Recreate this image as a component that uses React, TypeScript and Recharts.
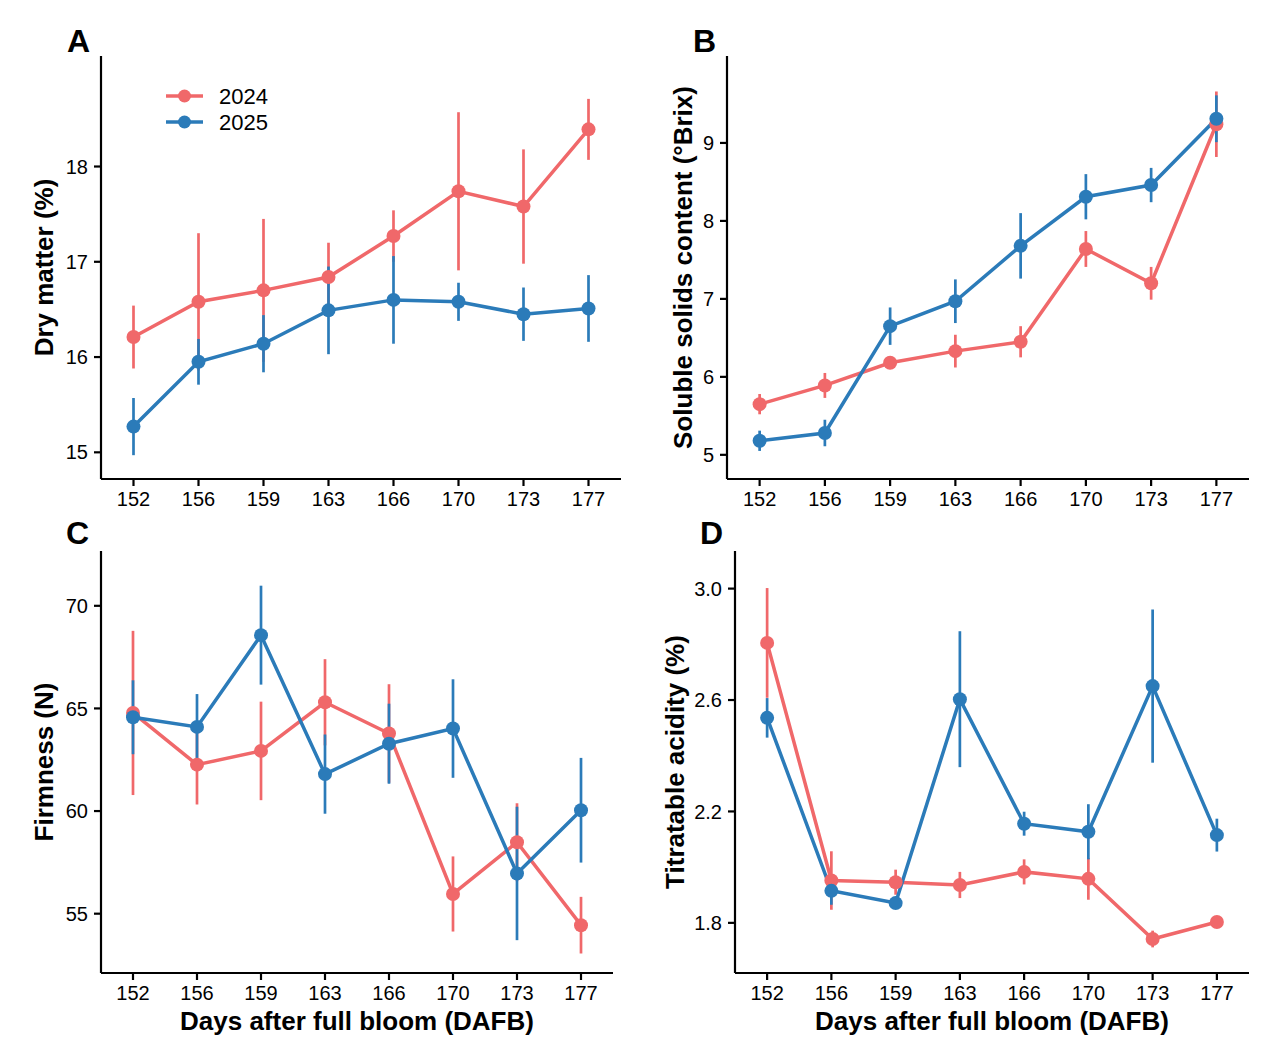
import { LineChart, Line, XAxis, YAxis, ErrorBar, Legend } from "recharts";

const days = ["152", "156", "159", "163", "166", "170", "173", "177"];

const dryMatter2024 = [16.21, 16.58, 16.7, 16.84, 17.27, 17.74, 17.58, 18.39];
const dryMatter2024Err = [0.33, 0.72, 0.75, 0.36, 0.27, 0.83, 0.6, 0.32];
const dryMatter2025 = [15.27, 15.95, 16.14, 16.49, 16.6, 16.58, 16.45, 16.51];
const dryMatter2025Err = [0.3, 0.24, 0.3, 0.46, 0.46, 0.2, 0.28, 0.35];

const ssc2024 = [5.65, 5.89, 6.18, 6.33, 6.45, 7.64, 7.2, 9.24];
const ssc2024Err = [0.13, 0.16, 0.08, 0.21, 0.2, 0.23, 0.21, 0.42];
const ssc2025 = [5.18, 5.28, 6.65, 6.97, 7.68, 8.31, 8.46, 9.31];
const ssc2025Err = [0.13, 0.17, 0.24, 0.28, 0.42, 0.29, 0.22, 0.3];

const firmness2024 = [64.78, 62.26, 62.93, 65.3, 63.78, 55.96, 58.48, 54.44];
const firmness2024Err = [4.0, 1.94, 2.4, 2.1, 2.4, 1.83, 1.9, 1.38];
const firmness2025 = [64.57, 64.1, 68.57, 61.8, 63.28, 64.02, 56.96, 60.04];
const firmness2025Err = [1.8, 1.6, 2.41, 1.93, 1.95, 2.4, 3.25, 2.55];

const acidity2024 = [2.805, 1.952, 1.946, 1.936, 1.983, 1.958, 1.742, 1.803];
const acidity2024Err = [0.197, 0.105, 0.045, 0.047, 0.045, 0.075, 0.03, 0.015];
const acidity2025 = [2.536, 1.915, 1.871, 2.603, 2.156, 2.127, 2.65, 2.115];
const acidity2025Err = [0.071, 0.05, 0.02, 0.244, 0.043, 0.099, 0.275, 0.059];

const RED = "#F0686A";
const BLUE = "#2B7BB9";
const FONT = "'Liberation Sans', Arial, sans-serif";

function rows(a: number[], aErr: number[], b: number[], bErr: number[]) {
  return days.map((d, i) => ({
    day: d,
    y2024: a[i],
    e2024: aErr[i],
    y2025: b[i],
    e2025: bErr[i],
  }));
}

const renderLegend = (props: any) => {
  const payload = props.payload || [];
  return (
    <svg width={130} height={56}>
      {payload.map((p: any, i: number) => {
        const cy = 12 + i * 26;
        return (
          <g key={p.value}>
            <line x1={0} x2={37} y1={cy} y2={cy} stroke={p.color} strokeWidth={3.5} />
            <circle cx={18.5} cy={cy} r={6.5} fill={p.color} />
            <text x={53} y={cy} dominantBaseline="central" fontSize={22} fontFamily={FONT} fill="#000">
              {p.value}
            </text>
          </g>
        );
      })}
    </svg>
  );
};

interface PanelProps {
  left: number;
  top: number;
  width: number;
  height: number;
  marginTop: number;
  marginRight: number;
  yAxisWidth: number;
  xAxisHeight: number;
  domain: [number, number];
  ticks: number[];
  tickFormat?: (v: number) => string;
  yTitle: string;
  yTitleX: number;
  xTitle?: string;
  data: any[];
  legend?: boolean;
}

function Panel(p: PanelProps) {
  const plotWidth = p.width - p.yAxisWidth - p.marginRight;
  const half = plotWidth / 16;
  const tickStyle = { fill: "#000", fontSize: 20, fontFamily: FONT };
  return (
    <div style={{ position: "absolute", left: p.left, top: p.top }}>
      <LineChart
        width={p.width}
        height={p.height}
        data={p.data}
        margin={{ top: p.marginTop, right: p.marginRight, bottom: 0, left: 0 }}
      >
        <XAxis
          dataKey="day"
          height={p.xAxisHeight}
          padding={{ left: half, right: half }}
          axisLine={{ stroke: "#000", strokeWidth: 2.2 }}
          tickLine={{ stroke: "#000", strokeWidth: 2.2 }}
          tickSize={7}
          tickMargin={6}
          tick={tickStyle}
          interval={0}
          label={
            p.xTitle
              ? {
                  content: (lp: any) => {
                    const vb = lp.viewBox || {};
                    return (
                      <text
                        x={vb.x + vb.width / 2}
                        y={vb.y + 57}
                        textAnchor="middle"
                        fontSize={26}
                        fontWeight="bold"
                        fontFamily={FONT}
                        fill="#000"
                      >
                        {p.xTitle}
                      </text>
                    );
                  },
                }
              : undefined
          }
        />
        <YAxis
          width={p.yAxisWidth}
          domain={p.domain}
          ticks={p.ticks}
          allowDataOverflow
          tickFormatter={p.tickFormat}
          axisLine={{ stroke: "#000", strokeWidth: 2.2 }}
          tickLine={{ stroke: "#000", strokeWidth: 2.2 }}
          tickSize={7}
          tickMargin={6}
          tick={tickStyle}
          label={{
            content: (lp: any) => {
              const vb = lp.viewBox || {};
              const cx = vb.x + p.yTitleX;
              const cy = vb.y + vb.height / 2;
              return (
                <text
                  x={cx}
                  y={cy}
                  transform={`rotate(-90, ${cx}, ${cy})`}
                  textAnchor="middle"
                  dominantBaseline="central"
                  fontSize={26}
                  fontWeight="bold"
                  fontFamily={FONT}
                  fill="#000"
                >
                  {p.yTitle}
                </text>
              );
            },
          }}
        />
        {p.legend && (
          <Legend
            layout="horizontal"
            align="center"
            verticalAlign="middle"
            content={renderLegend}
            wrapperStyle={{ left: 166, top: 84, width: 130, height: 56 }}
          />
        )}
        <Line
          name="2024"
          dataKey="y2024"
          stroke={RED}
          strokeWidth={3.5}
          dot={{ r: 7, fill: RED, stroke: "none" }}
          activeDot={false}
          isAnimationActive={false}
        >
          <ErrorBar dataKey="e2024" direction="y" width={0} stroke={RED} strokeWidth={2.7} isAnimationActive={false} />
        </Line>
        <Line
          name="2025"
          dataKey="y2025"
          stroke={BLUE}
          strokeWidth={3.5}
          dot={{ r: 7, fill: BLUE, stroke: "none" }}
          activeDot={false}
          isAnimationActive={false}
        >
          <ErrorBar dataKey="e2025" direction="y" width={0} stroke={BLUE} strokeWidth={2.7} isAnimationActive={false} />
        </Line>
      </LineChart>
    </div>
  );
}

const letters = [
  { t: "A", x: 67, y: 52 },
  { t: "B", x: 693, y: 52 },
  { t: "C", x: 66, y: 544 },
  { t: "D", x: 700, y: 544 },
];

export default function App() {
  return (
    <div style={{ position: "absolute", left: 0, top: 0, width: 1283, height: 1056, background: "#fff" }}>
      <Panel
        left={0}
        top={0}
        width={640}
        height={520}
        marginTop={56}
        marginRight={19}
        yAxisWidth={101}
        xAxisHeight={41}
        domain={[14.72, 19.16]}
        ticks={[15, 16, 17, 18]}
        yTitle="Dry matter (%)"
        yTitleX={44}
        data={rows(dryMatter2024, dryMatter2024Err, dryMatter2025, dryMatter2025Err)}
        legend
      />
      <Panel
        left={640}
        top={0}
        width={643}
        height={520}
        marginTop={56}
        marginRight={34}
        yAxisWidth={87}
        xAxisHeight={41}
        domain={[4.69, 10.115]}
        ticks={[5, 6, 7, 8, 9]}
        yTitle="Soluble solids content (°Brix)"
        yTitleX={43}
        data={rows(ssc2024, ssc2024Err, ssc2025, ssc2025Err)}
      />
      <Panel
        left={0}
        top={500}
        width={640}
        height={556}
        marginTop={51}
        marginRight={27}
        yAxisWidth={101}
        xAxisHeight={83}
        domain={[52.11, 72.67]}
        ticks={[55, 60, 65, 70]}
        yTitle="Firmness (N)"
        yTitleX={44}
        xTitle="Days after full bloom (DAFB)"
        data={rows(firmness2024, firmness2024Err, firmness2025, firmness2025Err)}
      />
      <Panel
        left={640}
        top={500}
        width={643}
        height={556}
        marginTop={51}
        marginRight={34}
        yAxisWidth={95}
        xAxisHeight={83}
        domain={[1.62, 3.135]}
        ticks={[1.8, 2.2, 2.6, 3.0]}
        tickFormat={(v: number) => v.toFixed(1)}
        yTitle="Titratable acidity (%)"
        yTitleX={35}
        xTitle="Days after full bloom (DAFB)"
        data={rows(acidity2024, acidity2024Err, acidity2025, acidity2025Err)}
      />
      <svg
        width={1283}
        height={1056}
        style={{ position: "absolute", left: 0, top: 0, pointerEvents: "none" }}
      >
        {letters.map((l) => (
          <text key={l.t} x={l.x} y={l.y} fontSize={32} fontWeight="bold" fontFamily={FONT} fill="#000">
            {l.t}
          </text>
        ))}
      </svg>
    </div>
  );
}
